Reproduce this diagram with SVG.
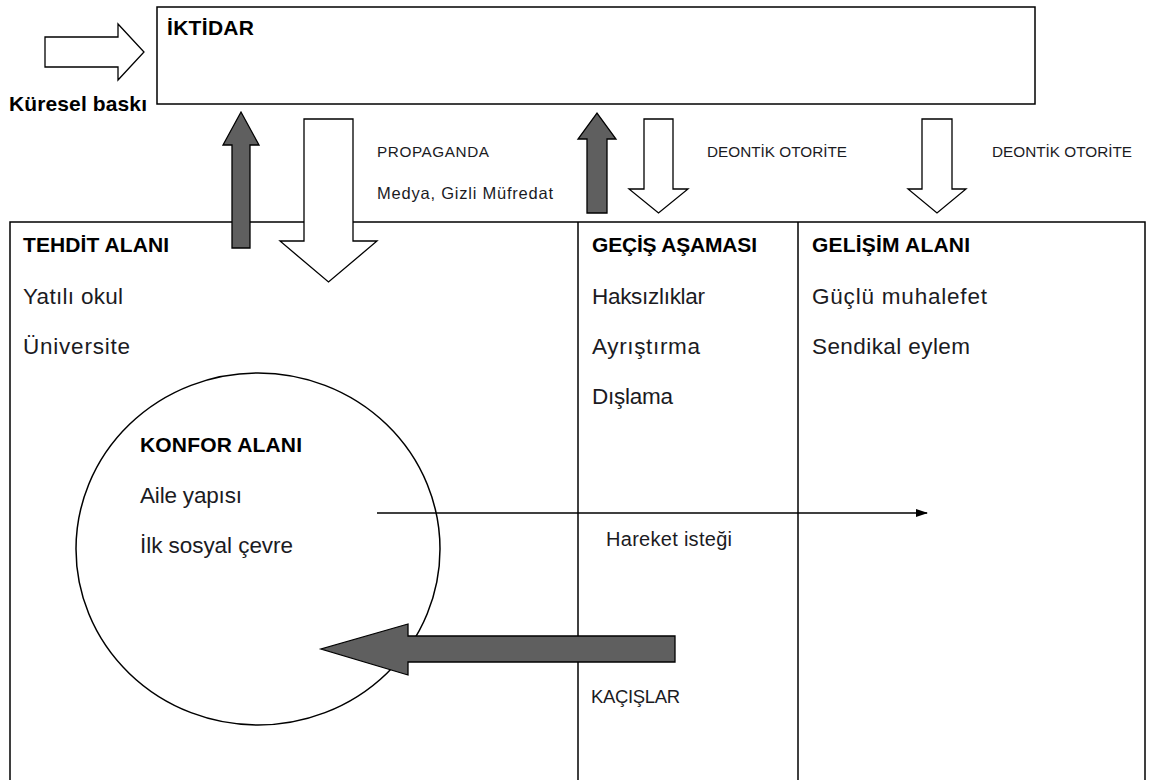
<svg xmlns="http://www.w3.org/2000/svg" width="1150" height="780" viewBox="0 0 1150 780">
  <style>
    .frame { fill: none; stroke: #000; stroke-width: 1.5; }
    .hollow { fill: #fff; stroke: #000; stroke-width: 1.3; stroke-linejoin: miter; }
    .dark { fill: #5f5f5f; stroke: #000; stroke-width: 1.3; }
    .t { font-family: "Liberation Sans", Arial, sans-serif; fill: #1b1b1f; }
    .b { font-weight: bold; fill: #000; }
    .body { font-size: 22.5px; }
    .head { font-size: 21px; }
    .small { font-size: 16.5px; }
    .caps { font-size: 15.3px; }
    .line { stroke: #000; stroke-width: 1.5; fill: none; }
  </style>
  <defs>
    <marker id="tip" markerWidth="12" markerHeight="10" refX="11" refY="5" orient="auto" markerUnits="userSpaceOnUse">
      <path d="M0,1 L12,5 L0,9 Z" fill="#000"/>
    </marker>
  </defs>
  <rect width="1150" height="780" fill="#fff"/>

  <g id="iktidar">
    <rect class="frame" x="157" y="7" width="878" height="97"/>
    <text class="t b head" x="167" y="35" textLength="87">İKTİDAR</text>
  </g>

  <g id="kuresel-baski">
    <text class="t b head" x="9" y="111" textLength="138">Küresel baskı</text>
  </g>

  <g id="alanlar">
    <rect class="frame" x="10" y="222" width="1135" height="580"/>
    <line class="line" x1="578" y1="222" x2="578" y2="780"/>
    <line class="line" x1="798" y1="222" x2="798" y2="780"/>
  </g>

  <g id="tehdit-alani">
    <text class="t b head" x="23" y="252" textLength="146">TEHDİT ALANI</text>
    <text class="t body" x="23" y="304" textLength="100">Yatılı okul</text>
    <text class="t body" x="23" y="354" textLength="107">Üniversite</text>
  </g>

  <g id="gecis-asamasi">
    <text class="t b head" x="592" y="252" textLength="165">GEÇİŞ AŞAMASI</text>
    <text class="t body" x="592" y="304" textLength="113">Haksızlıklar</text>
    <text class="t body" x="592" y="354" textLength="108">Ayrıştırma</text>
    <text class="t body" x="592" y="404" textLength="81">Dışlama</text>
  </g>

  <g id="gelisim-alani">
    <text class="t b head" x="812" y="252" textLength="158">GELİŞİM ALANI</text>
    <text class="t body" x="812" y="304" textLength="175">Güçlü muhalefet</text>
    <text class="t body" x="812" y="354" textLength="158">Sendikal eylem</text>
  </g>

  <g id="konfor-alani">
    <ellipse class="frame" cx="258" cy="549" rx="182" ry="176"/>
    <text class="t b head" x="140" y="452" textLength="162">KONFOR ALANI</text>
    <text class="t body" x="140" y="503" textLength="102">Aile yapısı</text>
    <text class="t body" x="140" y="553" textLength="153">İlk sosyal çevre</text>
  </g>

  <g id="connectors">
    <polygon class="hollow" points="45,37 118,37 118,24 144,52 118,80 118,67 45,67"/>
    <polygon class="dark" points="232,248 232,145 223,145 241,112 259,145 250,145 250,248"/>
    <polygon class="hollow" points="304,119 353,119 353,241 377,241 328.5,282 280,241 304,241"/>
    <text class="t caps" x="377" y="157" textLength="112">PROPAGANDA</text>
    <text class="t small" x="377" y="199" textLength="176">Medya, Gizli Müfredat</text>
    <polygon class="dark" points="587,213 587,139 578,139 597,113 616,139 607,139 607,213"/>
    <polygon class="hollow" points="644,119 673,119 673,189 688,189 658.5,213 629,189 644,189"/>
    <text class="t caps" x="707" y="157" textLength="140">DEONTİK OTORİTE</text>
    <polygon class="hollow" points="922,119 952,119 952,189 966,189 937,213 908,189 922,189"/>
    <text class="t caps" x="992" y="157" textLength="140">DEONTİK OTORİTE</text>
    <line class="line" x1="377" y1="513" x2="927" y2="513" marker-end="url(#tip)"/>
    <text class="t" font-size="20" x="606" y="546" textLength="126">Hareket isteği</text>
    <polygon class="dark" points="675,636 408,636 408,624 321,649 408,675 408,662 675,662"/>
    <text class="t" font-size="18.5" x="591" y="703" textLength="89">KAÇIŞLAR</text>
  </g>
</svg>
